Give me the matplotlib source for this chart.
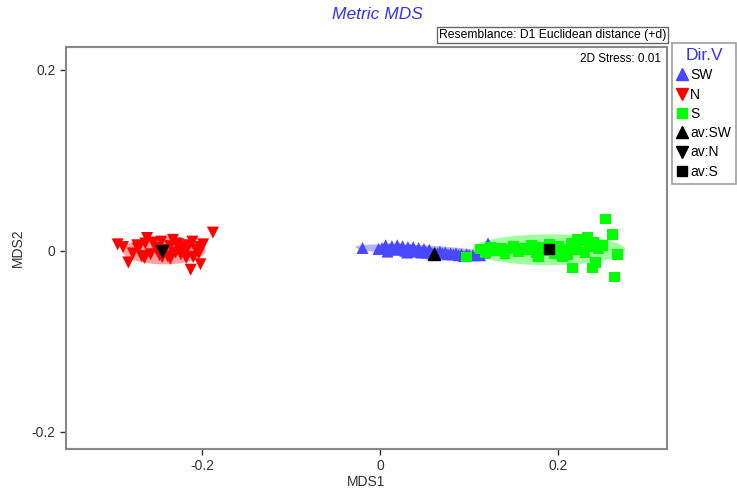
import matplotlib.pyplot as plt
from matplotlib.patches import Ellipse
from matplotlib.lines import Line2D

plt.rcParams['font.family'] = ['Liberation Sans', 'DejaVu Sans']

# group N (red, down triangles)
n_x = [-0.295, -0.289, -0.283, -0.278, -0.273, -0.268, -0.264, -0.262, -0.258, -0.255,
       -0.251, -0.248, -0.246, -0.242, -0.239, -0.236, -0.233, -0.230, -0.227, -0.224,
       -0.221, -0.218, -0.215, -0.211, -0.210, -0.207, -0.204, -0.202, -0.199, -0.188,
       -0.213, -0.202, -0.265, -0.252, -0.236, -0.229, -0.218, -0.272, -0.245, -0.223]
n_y = [0.007, 0.004, -0.013, -0.003, 0.006, -0.006, 0.008, 0.014, -0.004, 0.009,
       0.002, -0.005, 0.010, 0.001, -0.006, 0.005, 0.012, -0.002, 0.007, -0.004,
       0.004, -0.008, 0.006, 0.010, -0.007, 0.001, -0.003, 0.004, 0.007, 0.020,
       -0.021, -0.015, -0.008, 0.003, -0.009, 0.008, 0.001, 0.002, -0.007, -0.001]

# group SW (blue, up triangles)
sw_x = [-0.020, -0.002, 0.002, 0.006, 0.010, 0.013, 0.016, 0.019, 0.022, 0.025,
        0.028, 0.031, 0.034, 0.037, 0.040, 0.043, 0.046, 0.049, 0.052, 0.055,
        0.058, 0.061, 0.064, 0.067, 0.070, 0.073, 0.076, 0.079, 0.082, 0.085,
        0.088, 0.091, 0.094, 0.097, 0.100, 0.104, 0.110, 0.112, 0.117, 0.121,
        0.008, 0.030, 0.050]
sw_y = [0.003, 0.002, 0.003, 0.006, 0.002, 0.005, 0.001, 0.006, 0.002, 0.005,
        0.000, 0.004, 0.001, 0.004, -0.001, 0.003, -0.002, 0.002, -0.002, 0.001,
        -0.003, -0.002, -0.003, -0.001, -0.003, -0.002, -0.004, -0.003, -0.004, -0.003,
        -0.005, -0.004, -0.006, -0.004, -0.005, -0.005, -0.001, -0.005, -0.002, 0.008,
        -0.001, -0.002, -0.001]

# group S (green, squares)
s_x = [0.097, 0.112, 0.118, 0.124, 0.130, 0.135, 0.140, 0.145, 0.150, 0.155,
       0.160, 0.165, 0.170, 0.175, 0.180, 0.185, 0.190, 0.195, 0.200, 0.205,
       0.210, 0.215, 0.220, 0.225, 0.230, 0.235, 0.240, 0.245, 0.253, 0.261,
       0.266, 0.263, 0.242, 0.238, 0.216, 0.233, 0.221, 0.205, 0.178, 0.250]
s_y = [-0.007, 0.002, -0.002, 0.004, 0.000, 0.003, -0.003, 0.002, 0.005, -0.001,
       0.003, 0.001, 0.006, -0.002, 0.004, 0.000, 0.007, -0.003, 0.005, 0.002,
       -0.004, 0.008, 0.001, 0.011, -0.002, 0.004, 0.009, 0.002, 0.035, 0.018,
       -0.004, -0.029, -0.013, -0.019, -0.019, 0.015, 0.012, -0.007, -0.006, 0.006]

# group averages
av_x = [0.060, -0.245, 0.189]
av_y = [-0.004, 0.000, 0.002]

# ellipses: centre x, centre y, width, height, angle
ell_n = (-0.243, 0.000, 0.093, 0.030, 0)
ell_sw = (0.048, 0.000, 0.152, 0.012, -3)
ell_s = (0.189, 0.001, 0.172, 0.034, 0)

fig = plt.figure(figsize=(7.37, 4.90), dpi=100)
ax = fig.add_axes([0.0896, 0.0837, 0.8154, 0.8204])

for (cx, cy, w, h, a), col in [(ell_n, '#ff6060'), (ell_sw, '#8080ff'), (ell_s, '#60ff60')]:
    ax.add_patch(Ellipse((cx, cy), w, h, angle=a, facecolor=col, alpha=0.6,
                         edgecolor='none', zorder=1))

ax.scatter(n_x, n_y, marker='v', s=75, color='#ff0000', edgecolors='none', zorder=2)
ax.scatter(sw_x, sw_y, marker='^', s=75, color='#4848ff', edgecolors='none', zorder=2)
ax.scatter(s_x, s_y, marker='s', s=60, color='#00ff00', edgecolors='none', zorder=2)
ax.scatter(av_x[0], av_y[0], marker='^', s=75, color='black', zorder=3)
ax.scatter(av_x[1], av_y[1], marker='v', s=75, color='black', zorder=3)
ax.scatter(av_x[2], av_y[2], marker='s', s=60, color='black', zorder=3)

ax.set_xlim(-0.353, 0.322)
ax.set_ylim(-0.219, 0.225)
ax.set_xticks([-0.2, 0, 0.2])
ax.set_xticklabels(['-0.2', '0', '0.2'])
ax.set_yticks([-0.2, 0, 0.2])
ax.set_yticklabels(['-0.2', '0', '0.2'])
ax.tick_params(labelsize=10, colors='#333333', length=4, width=1, direction='out')
for sp in ax.spines.values():
    sp.set_color('#888888')
    sp.set_linewidth(1.5)
ax.set_xlabel('MDS1', fontsize=10, color='#333333', labelpad=1)
ax.set_ylabel('MDS2', fontsize=10, color='#333333', labelpad=5)

ax.text(0.99, 0.985, '2D Stress: 0.01', transform=ax.transAxes, ha='right', va='top',
        fontsize=8.5)
fig.text(0.5115, 0.971, 'Metric MDS', ha='center', va='center', fontsize=12.5,
         style='italic', color='#3333ff')
fig.text(0.904, 0.929, 'Resemblance: D1 Euclidean distance (+d)', ha='right', va='center',
         fontsize=8.7, bbox=dict(boxstyle='square,pad=0.15', facecolor='white',
                                 edgecolor='#666666', linewidth=1))

handles = [
    Line2D([], [], marker='^', color='#4848ff', linestyle='none', markersize=8),
    Line2D([], [], marker='v', color='#ff0000', linestyle='none', markersize=8),
    Line2D([], [], marker='s', color='#00ff00', linestyle='none', markersize=7),
    Line2D([], [], marker='^', color='black', linestyle='none', markersize=8),
    Line2D([], [], marker='v', color='black', linestyle='none', markersize=8),
    Line2D([], [], marker='s', color='black', linestyle='none', markersize=7),
]
labels = ['SW', 'N', 'S', 'av:SW', 'av:N', 'av:S']
leg = fig.legend(handles, labels, title='Dir.V', loc='upper left',
                 bbox_to_anchor=(0.912, 0.912), fontsize=10, title_fontsize=12.5,
                 frameon=True, fancybox=False, borderpad=0.35, handlelength=0.7,
                 handletextpad=0.25, labelspacing=0.38, borderaxespad=0)
leg.get_title().set_color('#3333ff')
leg.get_frame().set_edgecolor('#888888')
leg.get_frame().set_linewidth(1.2)

fig.savefig('out.png', dpi=100)
